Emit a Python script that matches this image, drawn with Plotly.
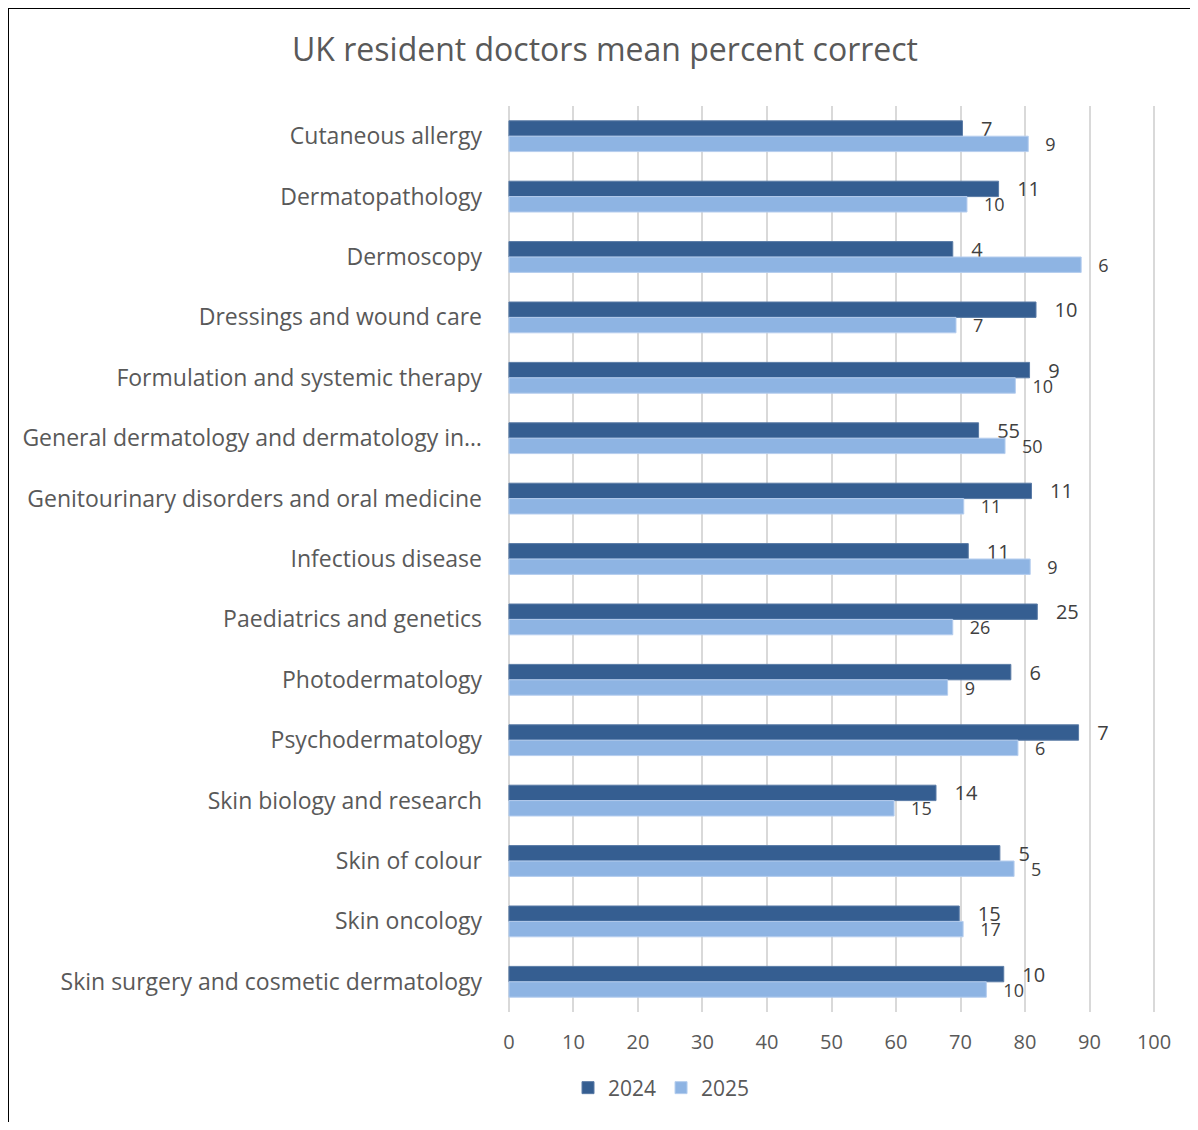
import plotly.graph_objects as go

categories = [
    "Cutaneous allergy",
    "Dermatopathology",
    "Dermoscopy",
    "Dressings and wound care",
    "Formulation and systemic therapy",
    "General dermatology and dermatology in…",
    "Genitourinary disorders and oral medicine",
    "Infectious disease",
    "Paediatrics and genetics",
    "Photodermatology",
    "Psychodermatology",
    "Skin biology and research",
    "Skin of colour",
    "Skin oncology",
    "Skin surgery and cosmetic dermatology",
]

pct_2024 = [70.3, 75.9, 68.8, 81.7, 80.7, 72.8, 81.0, 71.2, 81.9, 77.8, 88.3, 66.2, 76.1, 69.8, 76.7]
pct_2025 = [80.5, 71.0, 88.7, 69.3, 78.5, 76.9, 70.5, 80.8, 68.8, 68.0, 78.9, 59.7, 78.3, 70.4, 74.0]

labels_2024 = [7, 11, 4, 10, 9, 55, 11, 11, 25, 6, 7, 14, 5, 15, 10]
labels_2025 = [9, 10, 6, 7, 10, 50, 11, 9, 26, 9, 6, 15, 5, 17, 10]

x_ticks = list(range(0, 101, 10))

FONT = "Open Sans"
DARK = "#355E91"
LIGHT = "#8EB4E3"
TXT = "#404040"
GRAY = "#595959"

pad = "\u00a0\u00a0\u00a0"

fig = go.Figure()
fig.add_trace(go.Bar(
    name="2024", y=categories, x=pct_2024, orientation="h",
    marker=dict(color=DARK, line=dict(color="#5a7ba6", width=1)),
    text=[pad + str(v) for v in labels_2024], textposition="outside",
    textfont=dict(family=FONT, size=20, color=TXT),
    constraintext="none", cliponaxis=False,
))
fig.add_trace(go.Bar(
    name="2025", y=categories, x=pct_2025, orientation="h",
    marker=dict(color=LIGHT, line=dict(color="#b5cdee", width=1)),
    text=[pad + str(v) for v in labels_2025], textposition="outside",
    textfont=dict(family=FONT, size=18, color=TXT),
    constraintext="none", cliponaxis=False,
))

W, H = 1182, 1114
ML, MR, MT, MB = 499, 34, 98, 110
pw = W - ML - MR
ph = H - MT - MB

def px_x(fx):
    return (fx - ML) / pw

def px_y(fy):
    return 1 - (fy - MT) / ph

fig.update_layout(
    width=W, height=H,
    margin=dict(l=ML, r=MR, t=MT, b=MB, pad=0),
    paper_bgcolor="white", plot_bgcolor="white",
    barmode="group", bargap=0.49, bargroupgap=0,
    title=dict(text="UK resident doctors mean percent correct",
               font=dict(family=FONT, size=32, color=GRAY),
               xref="container", x=597 / W, xanchor="center",
               yref="container", y=1 - 42 / H, yanchor="middle"),
    font=dict(family=FONT, color=GRAY),
    xaxis=dict(range=[-0.3, 100.3], tickvals=x_ticks, ticktext=[str(t) for t in x_ticks],
               showgrid=True, gridcolor="#D9D9D9", gridwidth=2,
               zeroline=False, showline=False, ticks="",
               tickfont=dict(family=FONT, size=20, color=GRAY),
               ticklabelstandoff=16, fixedrange=True),
    yaxis=dict(autorange="reversed", showgrid=False, showline=False, ticks="",
               tickfont=dict(family=FONT, size=23, color=GRAY),
               ticklabelstandoff=24),
    legend=dict(orientation="h", x=px_x(560), xanchor="left",
                y=px_y(1080), yanchor="middle", traceorder="normal",
                font=dict(family=FONT, size=21, color=GRAY),
                itemwidth=30),
    showlegend=True,
    shapes=[
        dict(type="line", xref="paper", yref="paper", x0=px_x(0), x1=px_x(0),
             y0=px_y(0), y1=px_y(H), line=dict(color="black", width=2)),
        dict(type="line", xref="paper", yref="paper", x0=px_x(0), x1=px_x(W),
             y0=px_y(0), y1=px_y(0), line=dict(color="black", width=2)),
    ],
)

fig.write_html("out.html")
